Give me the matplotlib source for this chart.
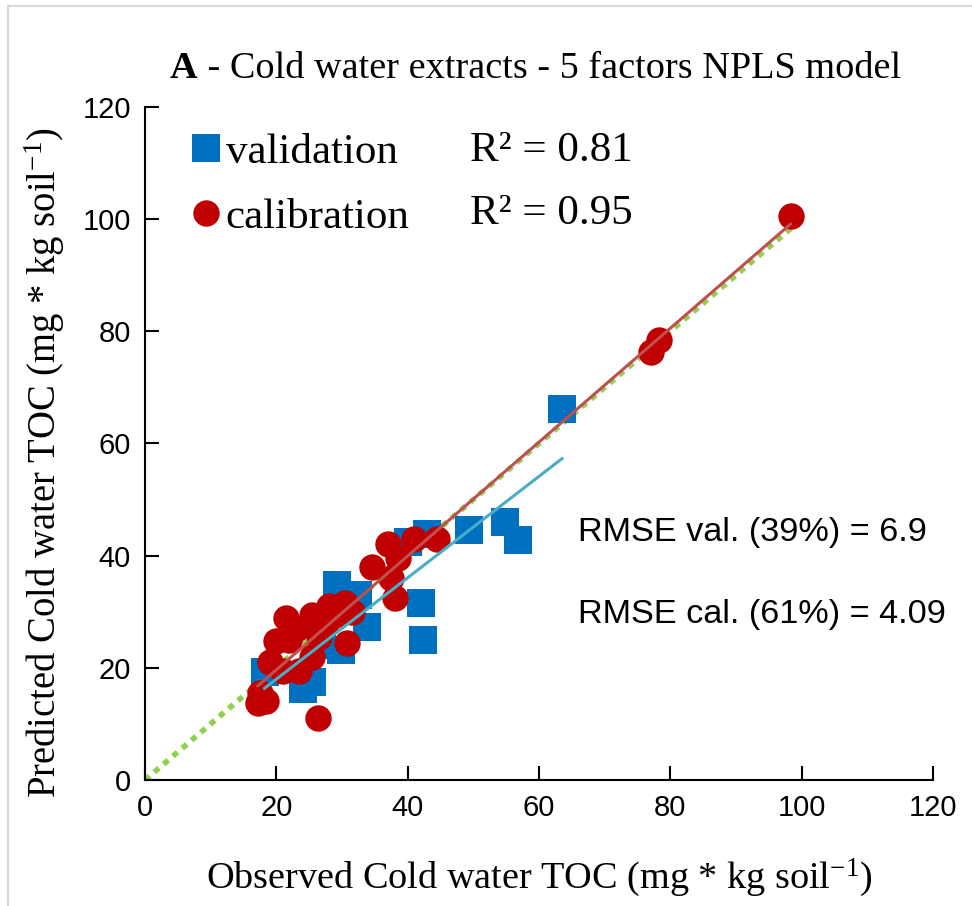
import matplotlib

matplotlib.use("Agg")

import matplotlib.pyplot as plt
import numpy as np
from matplotlib.lines import Line2D

plt.rcParams["mathtext.fontset"] = "custom"
plt.rcParams["mathtext.rm"] = "Liberation Serif"
plt.rcParams["mathtext.it"] = "Liberation Serif:italic"

SERIF = "Liberation Serif"
SANS = "Liberation Sans"

# validation samples (observed, predicted)
val_obs = [18.2, 24.0, 25.5, 29.3, 32.5, 33.8, 29.8, 27.0, 40.0, 43.0,
           42.0, 42.3, 49.3, 54.8, 56.8, 63.5]
val_pred = [19.2, 16.3, 17.5, 34.8, 33.0, 27.2, 23.2, 24.0, 42.5, 43.8,
            31.5, 25.0, 44.6, 46.0, 42.8, 66.2]

# calibration samples (observed, predicted)
cal_obs = [17.2, 17.5, 18.5, 26.3, 19.0, 20.0, 21.5, 22.0, 23.0, 23.5,
           21.0, 25.5, 25.5, 26.5, 27.5, 28.0, 29.0, 30.5, 30.8, 31.5,
           34.5, 37.0, 37.5, 38.0, 38.5, 41.0, 44.5, 77.0, 78.3, 98.3]
cal_pred = [13.7, 15.5, 14.0, 11.0, 21.0, 24.8, 28.8, 25.0, 27.0, 19.5,
            19.5, 22.0, 29.5, 25.5, 28.0, 31.0, 29.5, 31.5, 24.5, 30.0,
            38.0, 42.0, 36.0, 32.5, 39.5, 43.0, 43.0, 76.3, 78.5, 100.5]

# linear trendlines
val_fit = (0.904, -0.1)
cal_fit = (1.015, -0.65)
one_to_one = [0, 99]

r2_labels = ["R\u00b2 = 0.81", "R\u00b2 = 0.95"]
rmse_labels = ["RMSE val. (39%) = 6.9", "RMSE cal. (61%) = 4.09"]
ticks = [0, 20, 40, 60, 80, 100, 120]

BLUE = "#0070C0"
RED = "#C00000"
RED_LINE = "#C0504D"
BLUE_LINE = "#4BACC6"
GREEN = "#92D050"

fig = plt.figure(figsize=(9.72, 9.06), dpi=100)
ax = fig.add_axes([145 / 972, 1 - 780 / 906, (933 - 145) / 972, (780 - 107) / 906])

ax.plot(one_to_one, one_to_one, color=GREEN, lw=4, dashes=(1.1, 1.1), zorder=1)
ax.plot(val_obs, val_pred, "s", color=BLUE, ms=20, mew=0, zorder=2)
ax.plot(cal_obs, cal_pred, "o", color=RED, ms=19, mew=0, zorder=3)

vx = np.array([min(val_obs), max(val_obs)])
ax.plot(vx, val_fit[0] * vx + val_fit[1], color=BLUE_LINE, lw=2.2, zorder=4)
cx = np.array([min(cal_obs), max(cal_obs)])
ax.plot(cx, cal_fit[0] * cx + cal_fit[1], color=RED_LINE, lw=2.2, zorder=5)

ax.set_xlim(0, 120)
ax.set_ylim(0, 120)
ax.set_xticks(ticks)
ax.set_yticks(ticks)
ax.tick_params(direction="in", length=10, width=1.5, labelsize=21, pad=10)
for lab in ax.get_xticklabels() + ax.get_yticklabels():
    lab.set_fontfamily(SANS)
for side in ("top", "right"):
    ax.spines[side].set_visible(False)
for side in ("left", "bottom"):
    ax.spines[side].set_linewidth(1.5)

ax.set_xlabel("Observed Cold water TOC (mg * kg soil$^{\\mathrm{-1}}$)",
              family=SERIF, fontsize=27.5, labelpad=25)
ax.set_ylabel("Predicted Cold water TOC (mg * kg soil$^{\\mathrm{-1}}$)",
              family=SERIF, fontsize=27.8)
ax.yaxis.set_label_coords(-0.099, 0.472)

handles = [
    Line2D([], [], marker="s", ls="none", color=BLUE, ms=20, mew=0),
    Line2D([], [], marker="o", ls="none", color=RED, ms=19, mew=0),
]
fig.legend(handles, ["validation", "calibration"], loc="upper left",
           bbox_to_anchor=(193 / 972, 1 - 133 / 906), borderaxespad=0, borderpad=0,
           frameon=False, handlelength=0.6, handletextpad=0.16, labelspacing=0.59,
           prop={"family": SERIF, "size": 31})
for i, txt in enumerate(r2_labels):
    fig.text(470 / 972, 1 - (151 + 63 * i) / 906, txt,
             family=SERIF, fontsize=31, va="center", ha="left")
for i, txt in enumerate(rmse_labels):
    fig.text(578 / 972, 1 - (532 + 83 * i) / 906, txt,
             family=SANS, fontsize=24.7, va="center", ha="left")

t1 = fig.text(170 / 972, 1 - 68 / 906, "A", family=SERIF, fontsize=27.5,
              weight="bold", va="center", ha="left")
ax.annotate(" - Cold water extracts - 5 factors NPLS model", xy=(1, 0),
            xycoords=t1, va="bottom", ha="left", family=SERIF, fontsize=27.5,
            annotation_clip=False)

# thin frame remains from the source image
fig.add_artist(Line2D([8 / 972, 8 / 972], [0, 1 - 6 / 906], color="#D9D9D9",
                      lw=1.5, transform=fig.transFigure))
fig.add_artist(Line2D([8 / 972, 1], [1 - 6 / 906, 1 - 6 / 906], color="#D9D9D9",
                      lw=1.5, transform=fig.transFigure))

fig.savefig("out.png", dpi=100)
